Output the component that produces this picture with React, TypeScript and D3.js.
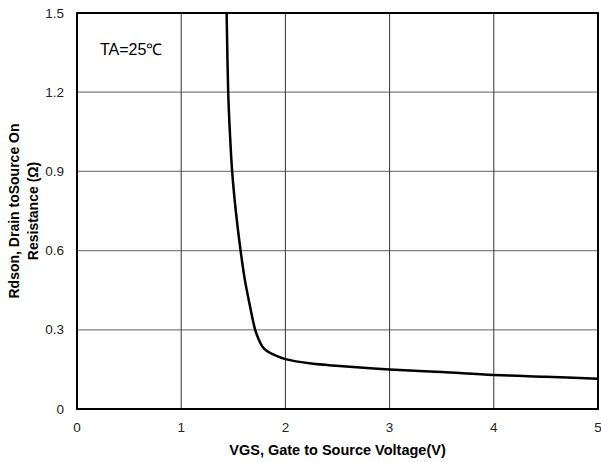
import React, { useEffect, useRef } from "react";
import * as d3 from "d3";

const vgs = [1.436, 1.451, 1.467, 1.489, 1.524, 1.57, 1.611, 1.66, 1.71, 1.745, 1.778, 1.819, 1.898, 2.0, 2.25, 2.52, 3, 3.5, 4, 4.5, 5];
const rdson = [1.5, 1.2, 1.05, 0.9, 0.75, 0.6, 0.489, 0.39, 0.3, 0.262, 0.237, 0.221, 0.204, 0.189, 0.172, 0.163, 0.15, 0.14, 0.129, 0.122, 0.115];
const xTicks = [0, 1, 2, 3, 4, 5];
const yTicks = [0, 0.3, 0.6, 0.9, 1.2, 1.5];

const App = () => {
  const ref = useRef<SVGSVGElement>(null);

  useEffect(() => {
    const svg = d3.select(ref.current);
    svg.selectAll("*").remove();

    const left = 77, right = 598, top = 13, bottom = 409;
    const x = d3.scaleLinear().domain([0, 5]).range([left, right]);
    const y = d3.scaleLinear().domain([0, 1.5]).range([bottom, top]);
    const font = "'Liberation Sans', Arial, sans-serif";

    // grid
    svg.append("g")
      .selectAll("line")
      .data(yTicks.slice(1, -1))
      .enter()
      .append("line")
      .attr("x1", left).attr("x2", right)
      .attr("y1", d => y(d)).attr("y2", d => y(d))
      .attr("stroke", "#808080").attr("stroke-width", 1.2);

    svg.append("g")
      .selectAll("line")
      .data(xTicks.slice(1, -1))
      .enter()
      .append("line")
      .attr("x1", d => x(d)).attr("x2", d => x(d))
      .attr("y1", top).attr("y2", bottom)
      .attr("stroke", "#333").attr("stroke-width", 1);

    // curve
    const line = d3.line<number>()
      .x((d, i) => x(vgs[i]))
      .y(d => y(d))
      .curve(d3.curveCatmullRom.alpha(0.5));

    svg.append("path")
      .datum(rdson)
      .attr("d", line)
      .attr("fill", "none")
      .attr("stroke", "#000")
      .attr("stroke-width", 2.5);

    // frame
    svg.append("rect")
      .attr("x", left).attr("y", top)
      .attr("width", right - left).attr("height", bottom - top)
      .attr("fill", "none").attr("stroke", "#000").attr("stroke-width", 2);

    // tick labels
    svg.append("g")
      .selectAll("text")
      .data(xTicks)
      .enter()
      .append("text")
      .attr("x", d => x(d)).attr("y", 432)
      .attr("text-anchor", "middle")
      .style("font-family", font).style("font-size", "13.5px").attr("fill", "#222")
      .text(d => d);

    svg.append("g")
      .selectAll("text")
      .data(yTicks)
      .enter()
      .append("text")
      .attr("x", 64).attr("y", d => y(d) + 4.5)
      .attr("text-anchor", "end")
      .style("font-family", font).style("font-size", "13.5px").attr("fill", "#222")
      .text(d => (d === 0 ? "0" : d.toFixed(1)));

    // axis titles
    svg.append("text")
      .attr("x", (left + right) / 2).attr("y", 455)
      .attr("text-anchor", "middle")
      .style("font-family", font).style("font-size", "14.5px").style("font-weight", "bold")
      .text("VGS, Gate to Source Voltage(V)");

    const yt = svg.append("text")
      .attr("transform", `translate(0, ${(top + bottom) / 2}) rotate(-90)`)
      .attr("text-anchor", "middle")
      .style("font-family", font).style("font-size", "14px").style("font-weight", "bold");
    yt.append("tspan").attr("x", 0).attr("y", 19).text("Rdson, Drain toSource On");
    yt.append("tspan").attr("x", 0).attr("y", 38).text("Resistance (Ω)");

    svg.append("text")
      .attr("x", 100).attr("y", 55)
      .style("font-family", font).style("font-size", "16px")
      .text("TA=25℃");
  }, []);

  return <svg ref={ref} width={601} height={462} style={{ position: "absolute", left: 0, top: 0 }} />;
};

export default App;
